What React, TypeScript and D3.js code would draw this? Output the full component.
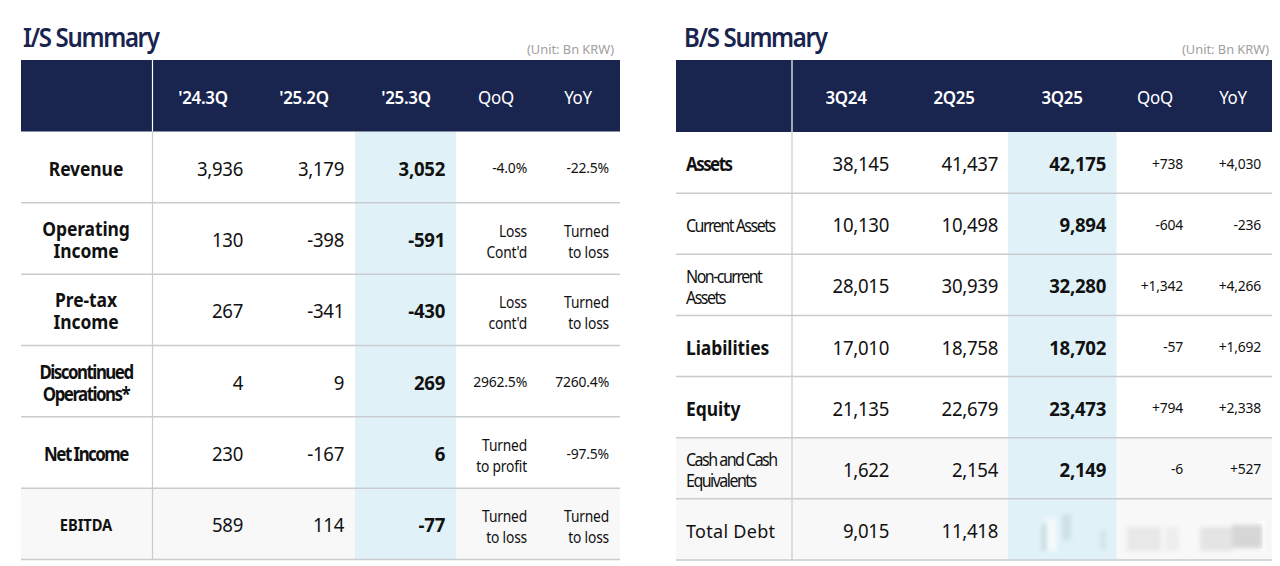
import * as d3 from "d3";

const FONT = "'Noto Sans', sans-serif";
const NAVY = "#19244f";
const LINE = "#c9cccf";
const HILITE = "#e0f2f8";
const SHADE = "#f8f8f8";

// income statement
const isColumns = ["'24.3Q", "'25.2Q", "'25.3Q", "QoQ", "YoY"];
const isRows = [["Revenue"], ["Operating", "Income"], ["Pre-tax", "Income"], ["Discontinued", "Operations*"], ["Net Income"], ["EBITDA"]];
const is243Q = ["3,936", "130", "267", "4", "230", "589"];
const is252Q = ["3,179", "-398", "-341", "9", "-167", "114"];
const is253Q = ["3,052", "-591", "-430", "269", "6", "-77"];
const isQoQ = [["-4.0%"], ["Loss", "Cont'd"], ["Loss", "cont'd"], ["2962.5%"], ["Turned", "to profit"], ["Turned", "to loss"]];
const isYoY = [["-22.5%"], ["Turned", "to loss"], ["Turned", "to loss"], ["7260.4%"], ["-97.5%"], ["Turned", "to loss"]];

// balance sheet
const bsColumns = ["3Q24", "2Q25", "3Q25", "QoQ", "YoY"];
const bsRows = [["Assets"], ["Current Assets"], ["Non-current", "Assets"], ["Liabilities"], ["Equity"], ["Cash and Cash", "Equivalents"], ["Total Debt"]];
const bs3Q24 = ["38,145", "10,130", "28,015", "17,010", "21,135", "1,622", "9,015"];
const bs2Q25 = ["41,437", "10,498", "30,939", "18,758", "22,679", "2,154", "11,418"];
const bs3Q25 = ["42,175", "9,894", "32,280", "18,702", "23,473", "2,149", ""];
const bsQoQ = ["+738", "-604", "+1,342", "-57", "+794", "-6", ""];
const bsYoY = ["+4,030", "-236", "+4,266", "+1,692", "+2,338", "+527", ""];

const tightLabels = ["Discontinued", "Operations*", "Net Income", "Current Assets", "Non-current", "Assets", "Cash and Cash", "Equivalents"];
const lightLabels = ["Current Assets", "Non-current", "Cash and Cash", "Equivalents", "Total Debt"];
const boldLeft = ["Assets", "Liabilities", "Equity"];

// squeezed text, the original face is narrower than Noto Sans
function Txt({ x, y, sx = 0.92, children, ...rest }: any) {
  return <text transform={`translate(${x},${y}) scale(${sx},1)`} {...rest}>{children}</text>;
}

interface TableProps {
  title: string;
  titleX: number;
  x0: number;
  x1: number;
  divider: number;
  hilite: [number, number];
  headerBottom: number;
  bottom: number;
  columns: string[];
  headerX: number[];
  rightEdges: number[];
  rows: string[][];
  values: string[][];
  changes: (string | string[])[][];
  shadedFrom: number;
  labelX: number;
  labelAnchor: "middle" | "start";
  unitX: number;
}

function Table(p: TableProps) {
  const y = d3.scaleBand<number>().domain(d3.range(p.rows.length)).range([p.headerBottom, p.bottom]);
  const head = d3.scaleOrdinal<string, number>().domain(p.columns).range(p.headerX);
  const right = d3.scaleOrdinal<string, number>().domain(p.columns).range(p.rightEdges);
  const bw = y.bandwidth();

  return (
    <g fontFamily={FONT}>
      <Txt x={p.titleX} y={47} sx={0.89} fontSize={27} fontWeight={600} fill={NAVY} letterSpacing={-1.5}>{p.title}</Txt>
      <text x={p.unitX} y={54} fontSize={12.8} fill="#a0a0a0" textAnchor="end">(Unit: Bn KRW)</text>

      {p.rows.map((_, i) => i >= p.shadedFrom && (
        <rect key={i} x={p.x0} width={p.x1 - p.x0} y={y(i)} height={bw} fill={SHADE} />
      ))}
      <rect x={p.hilite[0]} width={p.hilite[1] - p.hilite[0]} y={p.headerBottom} height={p.bottom - p.headerBottom} fill={HILITE} />
      <rect x={p.x0} width={p.x1 - p.x0} y={60} height={p.headerBottom - 60} fill={NAVY} />
      <line x1={p.divider} x2={p.divider} y1={60} y2={p.headerBottom} stroke="#fff" strokeWidth={1.2} />
      <line x1={p.divider} x2={p.divider} y1={p.headerBottom} y2={p.bottom} stroke={LINE} strokeWidth={1.2} />
      {p.rows.map((_, i) => (
        <line key={i} x1={p.x0} x2={p.x1} y1={y(i)! + bw} y2={y(i)! + bw} stroke={LINE} strokeWidth={1.5} />
      ))}

      {p.columns.map((c, i) => (
        <Txt key={c} x={head(c)} y={104} sx={0.94} fill="#fff" fontSize={18} fontWeight={i < 3 ? 600 : 400} textAnchor="middle" letterSpacing={-0.3}>{c}</Txt>
      ))}

      {p.rows.map((lines, i) => {
        const cy = y(i)! + bw / 2 + 2;
        return lines.map((l, k) => {
          const bold = p.labelAnchor === "middle" ? true : boldLeft.includes(l);
          const light = p.labelAnchor === "start" && lightLabels.includes(lines[0]);
          const tight = tightLabels.includes(l);
          const size = l === "EBITDA" ? 16 : 19;
          return (
            <Txt key={k} x={p.labelX} y={cy + (k - (lines.length - 1) / 2) * (p.labelAnchor === "middle" ? 22 : 21)} dy="0.35em"
              sx={l === "Total Debt" ? 1 : tight ? 0.89 : 0.92}
              textAnchor={p.labelAnchor} fontSize={light ? 18 : size} fontWeight={light ? 400 : bold ? 700 : 400} fill="#111"
              letterSpacing={tight ? -1.7 : l === "Total Debt" ? 0.3 : -0.1}>{l}</Txt>
          );
        });
      })}

      {p.values.map((col, c) => col.map((v, i) => (
        <Txt key={c + "-" + i} x={right(p.columns[c])} y={y(i)! + bw / 2 + 1.5} sx={0.93} dy="0.35em" textAnchor="end"
          fontSize={20} fontWeight={c === 2 ? 700 : 400} fill="#111" letterSpacing={-0.3}>{v}</Txt>
      )))}

      {p.changes.map((col, c) => col.map((v, i) => {
        const lines = Array.isArray(v) ? v : [v];
        return lines.map((l, k) => (
          <Txt key={c + "-" + i + "-" + k} x={right(p.columns[c + 3])} y={y(i)! + bw / 2 + 1 + (lines.length > 1 ? 2.5 : 0) + (k - (lines.length - 1) / 2) * 21} dy="0.35em"
            sx={lines.length > 1 ? 0.89 : 0.96} textAnchor="end" fontSize={lines.length > 1 ? 15.5 : 14.5} fill="#111" letterSpacing={-0.2}>{l}</Txt>
        ));
      }))}
    </g>
  );
}

export default function App() {
  return (
    <svg width={1280} height={566} style={{ position: "absolute", left: 0, top: 0, background: "#fff" }}>
      <defs>
        <filter id="smear" x="-20%" y="-20%" width="140%" height="140%">
          <feGaussianBlur stdDeviation="2.2" />
        </filter>
      </defs>
      <Table title="I/S Summary" titleX={23} x0={21} x1={620} divider={152.5} hilite={[355, 456]}
        headerBottom={131.5} bottom={559.5} columns={isColumns} headerX={[203, 304, 406, 496, 578]}
        rightEdges={[243, 344, 445, 527, 609]} rows={isRows} values={[is243Q, is252Q, is253Q]} changes={[isQoQ, isYoY]}
        shadedFrom={5} labelX={86} labelAnchor="middle" unitX={614} />
      <Table title="B/S Summary" titleX={684} x0={676} x1={1272} divider={792} hilite={[1008, 1116.5]}
        headerBottom={132} bottom={560} columns={bsColumns} headerX={[846, 954, 1062, 1155, 1233]}
        rightEdges={[889, 998, 1106, 1183, 1261]} rows={bsRows} values={[bs3Q24, bs2Q25, bs3Q25]} changes={[bsQoQ, bsYoY]}
        shadedFrom={5} labelX={686} labelAnchor="start" unitX={1269} />
      {/* smudged watermark over the last row */}
      <g filter="url(#smear)">
        <rect x={1047} y={518} width={10} height={33} fill="#f4f9fa" />
        <rect x={1042} y={525} width={4} height={26} fill="#c4d6db" />
        <rect x={1062} y={514} width={9} height={26} fill="#cfe0e5" />
        <rect x={1100} y={530} width={6} height={20} fill="#d3e6ea" />
        <rect x={1127} y={527} width={34} height={24} fill="#e8e8e8" />
        <rect x={1165} y={527} width={14} height={24} fill="#eeeeee" />
        <rect x={1200} y={527} width={32} height={24} fill="#e4e4e4" />
        <rect x={1232} y={525} width={30} height={23} fill="#d6d6d6" />
      </g>
      <path d="M1258 522H1264V550H1260" fill="none" stroke="#fff" strokeWidth={1.4} />
    </svg>
  );
}
